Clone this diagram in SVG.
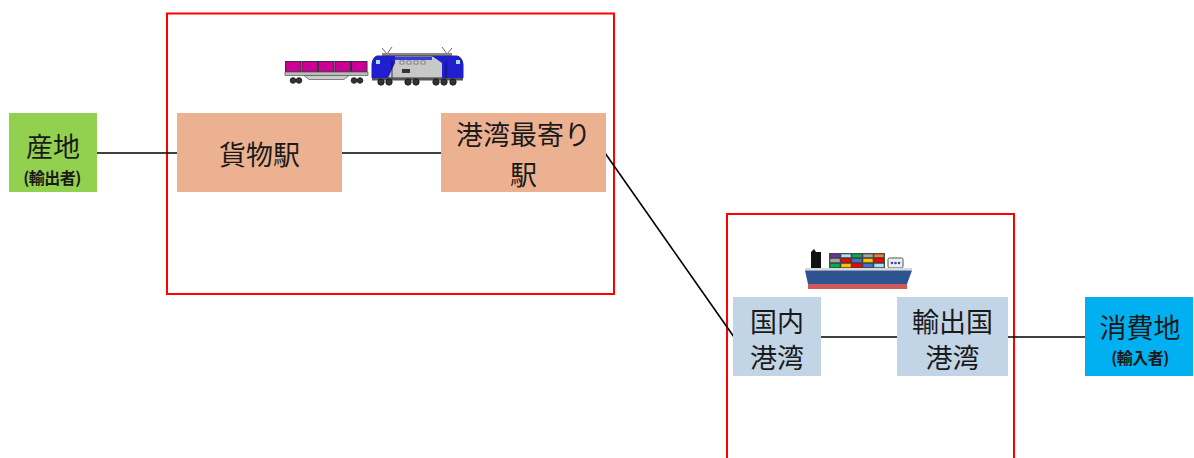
<svg xmlns="http://www.w3.org/2000/svg" width="1194" height="458" viewBox="0 0 1194 458">
  <style>
    .frame { fill: none; stroke: #FF0000; stroke-width: 2; }
    .link { stroke: #000; stroke-width: 1.6; fill: none; }
    .big { font-family: "Noto Sans CJK JP", "Noto Sans CJK SC", sans-serif; font-size: 27px; fill: #1a1a1a; text-anchor: middle; }
    .small { font-family: "Noto Sans CJK JP", "Noto Sans CJK SC", sans-serif; font-size: 16px; font-weight: bold; fill: #1a1a1a; text-anchor: middle; letter-spacing: -0.5px; }
    .rail { fill: #EBB191; }
    .port { fill: #C2D5E7; }
    .box { fill: #CC0099; stroke: #333; stroke-width: 1; }
    .wheel { fill: #333; stroke: #111; stroke-width: 0.8; }
    .ctr { stroke: #333; stroke-width: 0.5; }
  </style>

  <!-- route frames -->
  <rect class="frame" x="167" y="13.5" width="447" height="280.5"/>
  <path class="frame" d="M727 460 V214 H1014 V460"/>

  <!-- connectors -->
  <g id="connectors">
    <line class="link" x1="97" y1="153" x2="177" y2="153"/>
    <line class="link" x1="342" y1="153" x2="441" y2="153"/>
    <line class="link" x1="605" y1="153" x2="734" y2="337"/>
    <line class="link" x1="821" y1="337" x2="897" y2="337"/>
    <line class="link" x1="1008" y1="337" x2="1085" y2="337"/>
  </g>

  <!-- nodes -->
  <g id="origin">
    <rect x="9" y="113" width="88" height="79" fill="#92D050"/>
    <text class="big" x="53" y="157">産地</text>
    <text class="small" x="52" y="184">(輸出者)</text>
  </g>
  <g id="freight-station">
    <rect class="rail" x="177" y="113" width="165" height="79"/>
    <text class="big" x="259.5" y="165">貨物駅</text>
  </g>
  <g id="port-station">
    <rect class="rail" x="441" y="113" width="165" height="79"/>
    <text class="big" x="523.5" y="145">港湾最寄り</text>
    <text class="big" x="523.5" y="185">駅</text>
  </g>
  <g id="domestic-port">
    <rect class="port" x="733" y="297" width="88" height="79"/>
    <text class="big" x="777" y="332">国内</text>
    <text class="big" x="777" y="368">港湾</text>
  </g>
  <g id="foreign-port">
    <rect class="port" x="897" y="297" width="111" height="79"/>
    <text class="big" x="952.5" y="332">輸出国</text>
    <text class="big" x="952.5" y="368">港湾</text>
  </g>
  <g id="destination">
    <rect x="1085" y="297" width="108" height="79" fill="#00B0F0"/>
    <text class="big" x="1140" y="338">消費地</text>
    <text class="small" x="1140" y="364">(輸入者)</text>
  </g>

  <!-- freight train: container wagon + electric locomotive -->
  <g id="train">
    <!-- wagon -->
    <rect class="box" x="285.5" y="61.5" width="15.5" height="10.5"/>
    <rect class="box" x="302" y="61.5" width="15.5" height="10.5"/>
    <rect class="box" x="318.5" y="61.5" width="15.5" height="10.5"/>
    <rect class="box" x="335" y="61.5" width="15.5" height="10.5"/>
    <rect class="box" x="351.5" y="61.5" width="15.5" height="10.5"/>
    <rect x="285" y="72" width="83" height="3.5" fill="#BBB" stroke="#555" stroke-width="0.7"/>
    <path d="M304 75.5 L309 79.5 H344 L349 75.5 Z" fill="#CCC" stroke="#555" stroke-width="0.7"/>
    <circle class="wheel" cx="293" cy="80.5" r="2.8"/>
    <circle class="wheel" cx="299" cy="80.5" r="2.8"/>
    <circle class="wheel" cx="354" cy="80.5" r="2.8"/>
    <circle class="wheel" cx="360" cy="80.5" r="2.8"/>
    <!-- locomotive -->
    <path d="M387 54 L382 48 M387 54 L392 47" stroke="#555" stroke-width="0.9" fill="none"/>
    <path d="M447 54 L442 47 M447 54 L452 48" stroke="#555" stroke-width="0.9" fill="none"/>
    <rect x="382" y="53" width="70" height="3" fill="#888"/>
    <path d="M377 56 H457 Q462 57 463 64 V78 H372 V64 Q373 57 377 56 Z" fill="#C8C8C8" stroke="#333" stroke-width="1"/>
    <path d="M377 56 H395 V63 L388 78 H372 V64 Q373 57 377 56 Z" fill="#1F1FD0"/>
    <path d="M432 56 H457 Q462 57 463 64 V78 H442 V63 Z" fill="#1F1FD0"/>
    <path d="M395 57 H432 V60 H395 Z" fill="#3A3AE0"/>
    <rect x="376" y="60" width="4" height="4" fill="#9FE3F0"/>
    <rect x="456" y="60" width="4" height="4" fill="#9FE3F0"/>
    <rect x="400" y="61" width="4" height="3" fill="#DDD" stroke="#333" stroke-width="0.5"/>
    <rect x="407" y="61" width="4" height="3" fill="#DDD" stroke="#333" stroke-width="0.5"/>
    <rect x="414" y="61" width="4" height="3" fill="#DDD" stroke="#333" stroke-width="0.5"/>
    <rect x="421" y="61" width="4" height="3" fill="#DDD" stroke="#333" stroke-width="0.5"/>
    <rect x="402" y="69" width="8" height="4" fill="#333"/>
    <line x1="392" y1="61" x2="392" y2="78" stroke="#111" stroke-width="0.8"/>
    <line x1="446" y1="61" x2="446" y2="78" stroke="#111" stroke-width="0.8"/>
    <rect x="372" y="78" width="91" height="2.5" fill="#555"/>
    <circle class="wheel" cx="381" cy="82" r="3.2"/>
    <circle class="wheel" cx="389" cy="82" r="3.2"/>
    <circle class="wheel" cx="408" cy="82" r="3.2"/>
    <circle class="wheel" cx="416" cy="82" r="3.2"/>
    <circle class="wheel" cx="436" cy="82" r="3.2"/>
    <circle class="wheel" cx="444" cy="82" r="3.2"/>
    <circle class="wheel" cx="453" cy="82" r="3.2"/>
  </g>

  <!-- container ship -->
  <g id="ship">
    <path d="M811 252 L814 249 L816 252 H821 V268 H811 Z" fill="#111"/>
    <rect x="829" y="253" width="56" height="15" fill="#555"/>
    <rect class="ctr" x="830" y="254" width="10" height="3.5" fill="#7030A0"/>
    <rect class="ctr" x="841" y="254" width="10" height="3.5" fill="#A5E3F5"/>
    <rect class="ctr" x="852" y="254" width="10" height="3.5" fill="#00B050"/>
    <rect class="ctr" x="863" y="254" width="10" height="3.5" fill="#A6A6A6"/>
    <rect class="ctr" x="874" y="254" width="10" height="3.5" fill="#ED7D31"/>
    <rect class="ctr" x="830" y="258.5" width="10" height="4" fill="#A6A6A6"/>
    <rect class="ctr" x="841" y="258.5" width="10" height="4" fill="#FF0000"/>
    <rect class="ctr" x="852" y="258.5" width="10" height="4" fill="#4472C4"/>
    <rect class="ctr" x="863" y="258.5" width="10" height="4" fill="#FFC000"/>
    <rect class="ctr" x="874" y="258.5" width="10" height="4" fill="#FF0000"/>
    <rect class="ctr" x="830" y="263.5" width="10" height="4" fill="#00B050"/>
    <rect class="ctr" x="841" y="263.5" width="10" height="4" fill="#FFC000"/>
    <rect class="ctr" x="852" y="263.5" width="10" height="4" fill="#FF0000"/>
    <rect class="ctr" x="863" y="263.5" width="10" height="4" fill="#4472C4"/>
    <rect class="ctr" x="874" y="263.5" width="10" height="4" fill="#A5E3F5"/>
    <rect x="888" y="258" width="15" height="10" rx="1.5" fill="#EEE" stroke="#555" stroke-width="1"/>
    <circle cx="892" cy="263" r="1.3" fill="#2E5597"/>
    <circle cx="895.5" cy="263" r="1.3" fill="#2E5597"/>
    <circle cx="899" cy="263" r="1.3" fill="#2E5597"/>
    <rect x="805" y="268" width="107" height="2.5" fill="#D9D9D9"/>
    <path d="M805 270.5 H912 L907 284 H808 Z" fill="#2F5290"/>
    <rect x="808" y="284" width="99" height="5" fill="#D05A5A"/>
  </g>
</svg>
